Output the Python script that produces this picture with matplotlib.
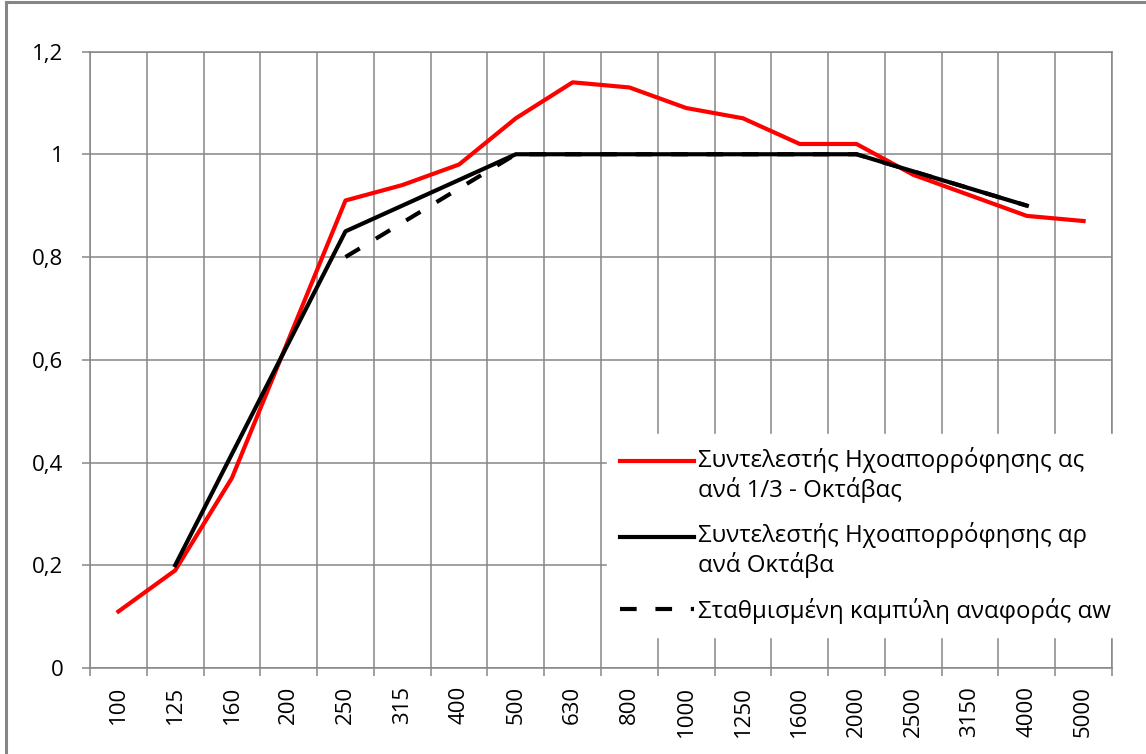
import matplotlib.pyplot as plt
from matplotlib.lines import Line2D
from matplotlib.legend_handler import HandlerLine2D

plt.rcParams['font.family'] = ['Open Sans', 'DejaVu Sans']

# συχνότητες 1/3 οκτάβας
freqs = ['100', '125', '160', '200', '250', '315', '400', '500', '630', '800',
         '1000', '1250', '1600', '2000', '2500', '3150', '4000', '5000']
# συντελεστής ηχοαπορρόφησης ανά 1/3 οκτάβας
alpha_s = [0.11, 0.19, 0.37, 0.64, 0.91, 0.94, 0.98, 1.07, 1.14, 1.13,
           1.09, 1.07, 1.02, 1.02, 0.96, 0.92, 0.88, 0.87]
# ανά οκτάβα
octave_freqs = ['125', '250', '500', '1000', '2000', '4000']
alpha_p = [0.2, 0.85, 1.0, 1.0, 1.0, 0.9]
# σταθμισμένη καμπύλη αναφοράς
ref_freqs = ['250', '500', '1000', '2000', '4000']
alpha_w = [0.8, 1.0, 1.0, 1.0, 0.9]

labels = ['Συντελεστής Ηχοαπορρόφησης ας\nανά 1/3 - Οκτάβας',
          'Συντελεστής Ηχοαπορρόφησης αρ\nανά Οκτάβα',
          'Σταθμισμένη καμπύλη αναφοράς αw']

grid_c = '#868686'
fs = 16
leg_fs = 17.3
lsp = 1.2


class FirstLineHandler(HandlerLine2D):
    # γραμμή του υπομνήματος στο ύψος της πρώτης γραμμής κειμένου
    def __init__(self, shift, **kw):
        super().__init__(**kw)
        self.shift = shift

    def create_artists(self, *args, **kw):
        arts = super().create_artists(*args, **kw)
        for a in arts:
            a.set_ydata([y + self.shift for y in a.get_ydata()])
        return arts


fig = plt.figure(figsize=(11.46, 7.54), dpi=100)
ax = fig.add_axes([90 / 1146, 1 - 668 / 754, 1022 / 1146, (668 - 51.5) / 754])

x_s = [freqs.index(f) for f in freqs]
x_p = [freqs.index(f) for f in octave_freqs]
x_w = [freqs.index(f) for f in ref_freqs]

l1, = ax.plot(x_s, alpha_s, color='#ff0000', lw=3, solid_joinstyle='round', label=labels[0], zorder=3)
l2, = ax.plot(x_p, alpha_p, color='black', lw=3, solid_joinstyle='round', label=labels[1], zorder=4)
l3, = ax.plot(x_w, alpha_w, color='black', lw=3, dashes=(4, 4.5), label=labels[2], zorder=2)

ax.set_xlim(-0.5, len(freqs) - 0.5)
ax.set_ylim(0, 1.2)
ax.set_yticks([0, 0.2, 0.4, 0.6, 0.8, 1.0, 1.2])
ax.set_yticklabels(['0', '0,2', '0,4', '0,6', '0,8', '1', '1,2'], fontsize=fs)
ax.set_xticks(range(len(freqs)))
ax.set_xticklabels(freqs, rotation=90, fontsize=fs)
ax.set_xticks([i - 0.5 for i in range(len(freqs) + 1)], minor=True)

ax.tick_params(axis='x', which='major', length=0, pad=13)
ax.tick_params(axis='x', which='minor', length=6, color=grid_c, width=1.1)
ax.tick_params(axis='y', length=6, color=grid_c, width=1.1, pad=13)

ax.grid(axis='y', which='major', color=grid_c, lw=1.1)
ax.grid(axis='x', which='minor', color=grid_c, lw=1.1)
ax.set_axisbelow(True)
for s in ax.spines.values():
    s.set_color(grid_c)
    s.set_linewidth(1.1)

shift = leg_fs * lsp / 2
leg = ax.legend(loc='upper left', bbox_to_anchor=(607 / 1146, 1 - 434 / 754),
                bbox_transform=fig.transFigure, borderaxespad=0, fontsize=leg_fs,
                frameon=True, fancybox=False, framealpha=1, edgecolor='white',
                handlelength=3.05, handletextpad=0.2, labelspacing=0.8, borderpad=0.55,
                handler_map={l1: FirstLineHandler(shift), l2: FirstLineHandler(shift)})
for t in leg.get_texts():
    t.set_linespacing(lsp)
leg.set_zorder(10)

# πλαίσιο γραφήματος
fig.add_artist(Line2D([6 / 1146, 6 / 1146], [0, 1 - 2 / 754], transform=fig.transFigure,
                      color=grid_c, lw=2.2))
fig.add_artist(Line2D([6 / 1146, 1], [1 - 2 / 754, 1 - 2 / 754], transform=fig.transFigure,
                      color=grid_c, lw=2.2))

plt.savefig('out.png', dpi=100)
